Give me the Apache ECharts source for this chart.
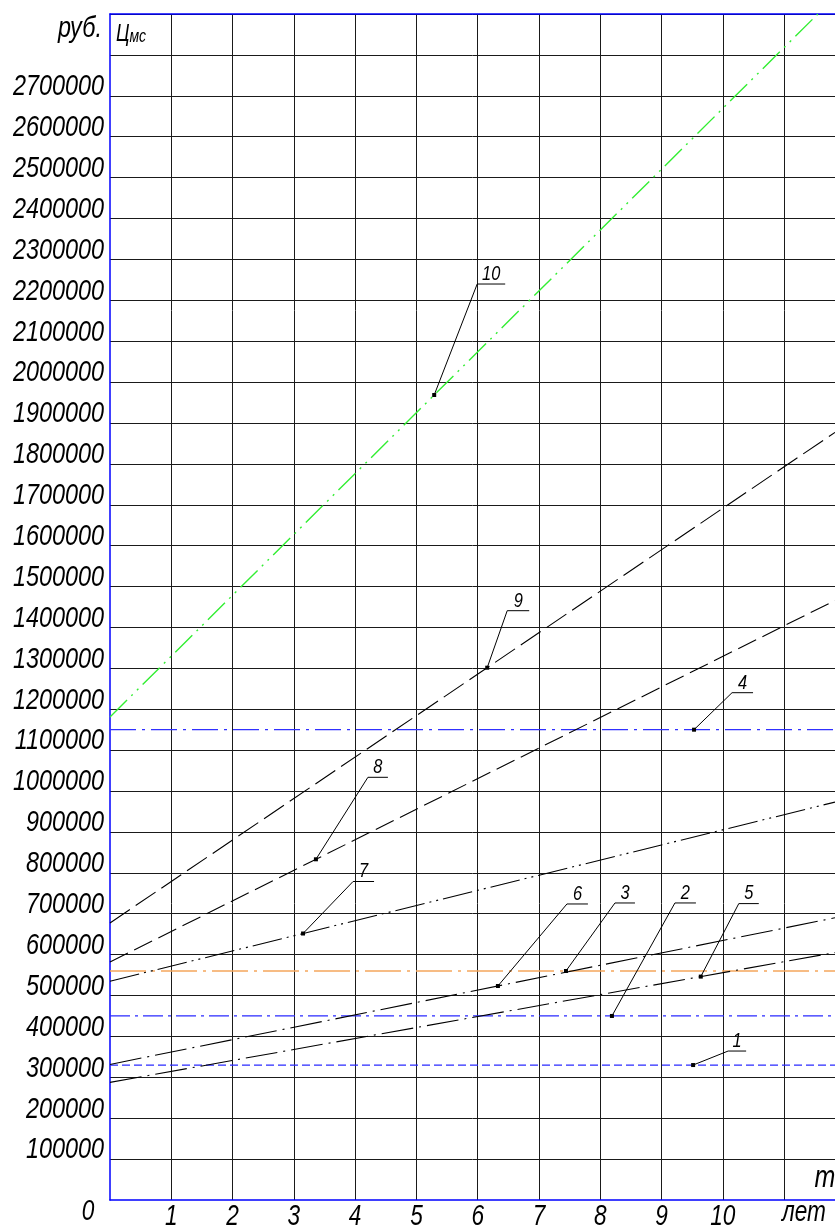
<!DOCTYPE html>
<html>
<head>
<meta charset="utf-8">
<script src="https://cdn.jsdelivr.net/npm/echarts@6/dist/echarts.min.js"></script>
<style>
  html, body { margin: 0; padding: 0; background: #fff; }
  #chart { width: 835px; height: 1228px; }
</style>
</head>
<body>
<div id="chart"></div>
<script>
// Cost lines, rubles vs years: [year, value] pairs
const line1 = [[0, 330000], [11.83, 330000]];
const line2 = [[0, 450000], [11.83, 450000]];
const line3 = [[0, 560000], [11.83, 560000]];
const line4 = [[0, 1150000], [11.83, 1150000]];
const line5 = [[0, 287600], [11.83, 605000]];
const line6 = [[0, 331500], [11.83, 690000]];
const line7 = [[0, 535000], [11.83, 973000]];
const line8 = [[0, 582000], [11.83, 1466000]];
const line9 = [[0, 677500], [11.83, 1877000]];
const line10 = [[0, 1181000], [11.55, 2900000]];

// Axis ranges and tick labels
const yearMax = 11.83;
const valueMax = 2900000;
const xTickLabels = [1, 2, 3, 4, 5, 6, 7, 8, 9, 10];
const yTickLabels = [
  100000, 200000, 300000, 400000, 500000, 600000, 700000, 800000, 900000,
  1000000, 1100000, 1200000, 1300000, 1400000, 1500000, 1600000, 1700000,
  1800000, 1900000, 2000000, 2100000, 2200000, 2300000, 2400000, 2500000,
  2600000, 2700000
];

// Leader callouts: which line, where along it (year), shelf offset in px
const callouts = [
  { line: 'line10', text: '10', t: 5.29, dx: 43, dy: -111, w: 28 },
  { line: 'line9', text: '9', t: 6.155, dx: 20, dy: -57, w: 22 },
  { line: 'line4', text: '4', t: 9.53, dx: 38, dy: -37, w: 21 },
  { line: 'line8', text: '8', t: 3.36, dx: 52, dy: -82, w: 20 },
  { line: 'line7', text: '7', t: 3.15, dx: 50, dy: -52, w: 21 },
  { line: 'line6', text: '6', t: 6.33, dx: 69, dy: -82, w: 21 },
  { line: 'line3', text: '3', t: 7.44, dx: 49, dy: -68, w: 20 },
  { line: 'line2', text: '2', t: 8.19, dx: 63, dy: -113, w: 21 },
  { line: 'line5', text: '5', t: 9.64, dx: 38, dy: -73, w: 20 },
  { line: 'line1', text: '1', t: 9.515, dx: 35, dy: -14, w: 18 }
];

const lines = { line1, line2, line3, line4, line5, line6, line7, line8, line9, line10 };

const FONT = "'Liberation Sans', Arial, sans-serif";
const NARROW = 0.78;   // horizontal squeeze for the drafting-style lettering
const BLUE = '#0000ff';
const INK = '#000000';

const styles = {
  line1: { color: '#2a2aff', width: 1.3, type: [8, 4] },
  line2: { color: '#2a2aff', width: 1.3, type: [20, 5, 3, 5] },
  line3: { color: '#f5a65c', width: 1.5, type: [36, 6, 3, 6] },
  line4: { color: '#3030ff', width: 1.2, type: [26, 6, 3, 6] },
  line5: { color: INK, width: 1.1, type: [32, 6, 2, 6] },
  line6: { color: INK, width: 1.1, type: [32, 6, 2, 6] },
  line7: { color: INK, width: 1.1, type: [30, 5, 2, 5, 2, 5] },
  line8: { color: INK, width: 1.1, type: [20, 7] },
  line9: { color: INK, width: 1.1, type: [24, 7] },
  line10: { color: '#33ee33', width: 1.4, type: [24, 6, 2, 6, 2, 6] }
};

const chart = echarts.init(document.getElementById('chart'), null, { renderer: 'canvas' });

const series = Object.keys(lines).map(name => ({
  name,
  type: 'line',
  data: lines[name],
  showSymbol: false,
  symbol: 'none',
  clip: true,
  lineStyle: styles[name],
  z: name === 'line10' ? 4 : 3,
  animation: false
}));

const gridLine = { show: true, showMinLine: false, lineStyle: { color: '#1a1a1a', width: 1 } };

chart.setOption({
  animation: false,
  backgroundColor: '#fff',
  grid: { left: 110, right: 0, top: 14, bottom: 28, containLabel: false, outerBoundsMode: 'none' },
  xAxis: [
    {
      type: 'value', min: 0, max: yearMax, interval: 1,
      axisLine: { show: true, onZero: false, lineStyle: { color: BLUE, width: 1.5 } },
      axisTick: { show: false },
      splitLine: Object.assign({ showMaxLine: false }, gridLine),
      axisLabel: { show: false }
    },
    {
      type: 'value', min: 0, max: yearMax, position: 'top',
      axisLine: { show: true, onZero: false, lineStyle: { color: BLUE, width: 1.5 } },
      axisTick: { show: false }, axisLabel: { show: false }, splitLine: { show: false }
    }
  ],
  yAxis: {
    type: 'value', min: 0, max: valueMax, interval: 100000,
    axisLine: { show: true, onZero: false, lineStyle: { color: BLUE, width: 1.5 } },
    axisTick: { show: false },
    splitLine: gridLine,
    axisLabel: { show: false }
  },
  series
});

// value of a line at a given year, read along its data segments
function valueAt(points, t) {
  for (let i = 0; i < points.length - 1; i++) {
    const [x0, y0] = points[i], [x1, y1] = points[i + 1];
    if (t >= x0 && t <= x1) return y0 + (y1 - y0) * (t - x0) / (x1 - x0);
  }
  return points[points.length - 1][1];
}

function textEl(x, y, text, size, align) {
  return {
    type: 'text', x, y, z: 20, silent: true, scaleX: NARROW,
    style: {
      text, fill: INK, fontFamily: FONT, fontStyle: 'italic', fontSize: size,
      align: align || 'center', verticalAlign: 'middle'
    }
  };
}

const px = (t, v) => chart.convertToPixel({ gridIndex: 0 }, [t, v]);
const graphics = [];

// tick labels: values sit just above their grid lines, years under theirs
yTickLabels.forEach(v => {
  const p = px(0, v);
  graphics.push(textEl(p[0] - 6, p[1] - 9, String(v), 30, 'right'));
});
xTickLabels.forEach(t => {
  const p = px(t, 0);
  graphics.push(textEl(p[0], p[1] + 17, String(t), 29));
});

callouts.forEach(c => {
  const p = px(c.t, valueAt(lines[c.line], c.t));
  const sx = p[0] + c.dx, sy = p[1] + c.dy;
  graphics.push({
    type: 'polyline', z: 20, silent: true,
    shape: { points: [[p[0], p[1]], [sx, sy], [sx + c.w, sy]] },
    style: { stroke: INK, lineWidth: 1, fill: null }
  });
  graphics.push({
    type: 'rect', z: 21, silent: true,
    shape: { x: p[0] - 2, y: p[1] - 2, width: 4, height: 4 },
    style: { fill: INK }
  });
  graphics.push(textEl(sx + c.w / 2, sy - 10, c.text, 21));
});

// axis titles and origin mark
const origin = px(0, 0);
const topLeft = px(0, valueMax);
const rightEdge = px(yearMax, 0);
graphics.push(textEl(origin[0] - 22, origin[1] + 12, '0', 29));
graphics.push(textEl(origin[0] - 8, topLeft[1] + 15, 'руб.', 30, 'right'));
graphics.push({
  type: 'text', x: origin[0] + 6, y: topLeft[1] + 20, z: 20, silent: true, scaleX: NARROW,
  style: {
    text: '{a|Ц}{b|мс}', verticalAlign: 'middle', align: 'left',
    rich: {
      a: { fontFamily: FONT, fontStyle: 'italic', fontSize: 24, fill: INK, verticalAlign: 'bottom' },
      b: { fontFamily: FONT, fontStyle: 'italic', fontSize: 18, fill: INK, verticalAlign: 'bottom' }
    }
  }
});
graphics.push(textEl(rightEdge[0] - 31, origin[1] + 13, 'лет', 29));
graphics.push(textEl(rightEdge[0] - 10, origin[1] - 22, 'т', 32));

chart.setOption({ graphic: graphics });
</script>
</body>
</html>
